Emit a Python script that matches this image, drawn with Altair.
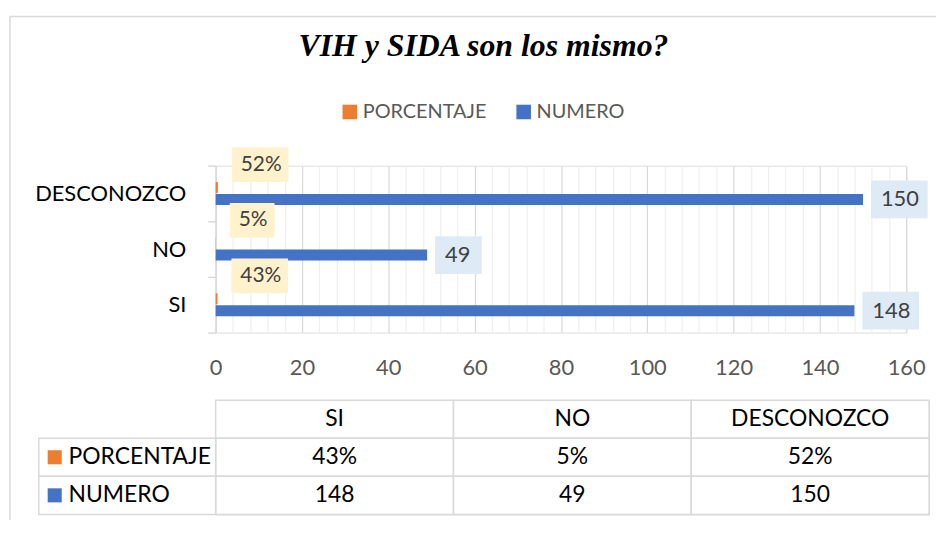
import altair as alt
import pandas as pd

# ---------------- data ----------------
categorias = ["SI", "NO", "DESCONOZCO"]
porcentaje = [0.43, 0.05, 0.52]
numero = [148, 49, 150]
series = ["PORCENTAJE", "NUMERO"]
colores = ["#ED7D31", "#4472C4"]
x_ticks = list(range(0, 161, 4))
titulo = "VIH y SIDA son los mismo?"

registros = []
for c, p, n in zip(categorias, porcentaje, numero):
    registros.append({"cat": c, "serie": "PORCENTAJE", "valor": p, "etiqueta": f"{round(p * 100)}%"})
    registros.append({"cat": c, "serie": "NUMERO", "valor": n, "etiqueta": f"{n}"})
df = pd.DataFrame(registros)

celdas = []
for c, p, n in zip(categorias, porcentaje, numero):
    celdas += [
        {"col": c, "fila": "CAT", "texto": c},
        {"col": c, "fila": "PORCENTAJE", "texto": f"{round(p * 100)}%"},
        {"col": c, "fila": "NUMERO", "texto": f"{n}"},
    ]
tdf = pd.DataFrame(celdas)
leyenda_df = pd.DataFrame({"fila": series})
marco_df = pd.DataFrame({"k": [0]})

# ---------------- style ----------------
FONT = "Lato"
GRID = "#D9D9D9"
W, H = 695, 168
TW, TH = 718, 115
cat_order = categorias[::-1]

y_enc = alt.Y(
    "cat:N",
    sort=cat_order,
    scale=alt.Scale(domain=cat_order, paddingInner=0, paddingOuter=0),
    axis=alt.Axis(
        title=None, domainColor=GRID, domainWidth=1.5, tickColor=GRID, tickWidth=1.5,
        tickSize=8, tickBand="extent", labelFont=FONT, labelFontSize=22,
        labelColor="#000000", labelPadding=22, grid=False,
    ),
)
x_enc = alt.X(
    "valor:Q",
    scale=alt.Scale(domain=[0, 160], nice=False, zero=True),
    axis=alt.Axis(
        title=None, values=x_ticks,
        labelExpr="datum.value % 20 == 0 ? datum.label : ''",
        labelOverlap=False, labelFlush=False, ticks=False, domain=False, grid=True,
        gridColor={"condition": {"test": "datum.value % 20 == 0", "value": "#D9D9D9"}, "value": "#EFEFEF"},
        gridWidth=1.2, labelFont=FONT, labelFontSize=22, labelColor="#595959", labelPadding=25,
    ),
)

barras = alt.Chart(df).mark_bar().encode(
    x=x_enc,
    y=y_enc,
    yOffset=alt.YOffset("serie:N", sort=series,
                        scale=alt.Scale(domain=series, range=[16.5, 39.5],
                                        paddingInner=0.083, paddingOuter=0)),
    color=alt.Color(
        "serie:N", sort=series, scale=alt.Scale(domain=series, range=colores),
        legend=alt.Legend(
            title=None, orient="none", legendX=125, legendY=-64, direction="horizontal",
            symbolType="square", symbolSize=215, symbolStrokeWidth=0, labelFont=FONT,
            labelFontSize=20, labelColor="#595959", columnPadding=27, labelOffset=3,
        ),
    ),
)

caja_pct = alt.Chart(df).transform_filter("datum.serie == 'PORCENTAJE'").mark_bar(
    color="#FFF2CC", height=35, yOffset=-29, xOffset=14,
    x2Offset=alt.expr("14 + 21 + 12 * length(datum.etiqueta)"),
).encode(x=x_enc, x2=alt.X2("valor"), y=y_enc)

txt_pct = alt.Chart(df).transform_filter("datum.serie == 'PORCENTAJE'").mark_text(
    align="left", baseline="middle", dx=23, dy=-29, font=FONT, fontSize=21, color="#404040",
).encode(x=x_enc, y=y_enc, text="etiqueta:N")

caja_num = alt.Chart(df).transform_filter("datum.serie == 'NUMERO'").mark_bar(
    color="#DEEBF7", height=38, yOffset=6, xOffset=8,
    x2Offset=alt.expr("8 + 27 + 10 * length(datum.etiqueta)"),
).encode(x=x_enc, x2=alt.X2("valor"), y=y_enc)

txt_num = alt.Chart(df).transform_filter("datum.serie == 'NUMERO'").mark_text(
    align="left", baseline="middle", dx=18, dy=6, font=FONT, fontSize=22, color="#404040",
).encode(x=x_enc, y=y_enc, text="etiqueta:N")

grafico = alt.layer(barras, caja_pct, txt_pct, caja_num, txt_num).properties(
    width=W, height=H,
    title=alt.TitleParams(
        text=titulo, font="Liberation Serif", fontSize=32, fontWeight="bold",
        fontStyle="italic", color="#000000", anchor="middle", offset=39, dx=-78,
    ),
)

# ---------------- data table ----------------
tx = alt.X("col:N", sort=categorias, scale=alt.Scale(domain=categorias, paddingInner=0, paddingOuter=0), axis=None)
ty = alt.Y("fila:N", sort=["CAT"] + series,
           scale=alt.Scale(domain=["CAT"] + series, paddingInner=0, paddingOuter=0), axis=None)

marco_top = alt.Chart(marco_df).mark_rule(color=GRID, strokeWidth=1.5).encode(
    x=alt.value(-207), x2=alt.value(725), y=alt.value(-386))
marco_left = alt.Chart(marco_df).mark_rule(color=GRID, strokeWidth=1.5).encode(
    x=alt.value(-207), y=alt.value(-386), y2=alt.value(121))

celdas_rect = alt.Chart(tdf).mark_rect(fill="white", stroke=GRID, strokeWidth=1.5).encode(x=tx, y=ty)
celdas_txt = alt.Chart(tdf).mark_text(font=FONT, fontSize=23, color="#000000").encode(
    x=tx, y=ty, text="texto:N")
ley_rect = alt.Chart(leyenda_df).mark_rect(fill="white", stroke=GRID, strokeWidth=1.5).encode(
    x=alt.value(-178), x2=alt.value(0), y=ty)
ley_sq = alt.Chart(leyenda_df).mark_point(shape="square", filled=True, size=200, opacity=1).encode(
    x=alt.value(-162), y=ty,
    color=alt.Color("fila:N", scale=alt.Scale(domain=series, range=colores), legend=None))
ley_txt = alt.Chart(leyenda_df).mark_text(align="left", font=FONT, fontSize=23, color="#000000").encode(
    x=alt.value(-148), y=ty, text="fila:N")

tabla = alt.layer(marco_top, marco_left, celdas_rect, celdas_txt, ley_rect, ley_sq, ley_txt).properties(
    width=TW, height=TH)

chart = (
    alt.vconcat(grafico, tabla, spacing=68, bounds="flush")
    .resolve_scale(color="independent")
    .resolve_legend(color="independent")
    .properties(padding={"left": 0, "top": 5, "right": 0, "bottom": 0})
    .configure_view(stroke=None)
    .configure(font=FONT)
)

chart.save("out.html", embed_options={"renderer": "svg", "actions": False})
